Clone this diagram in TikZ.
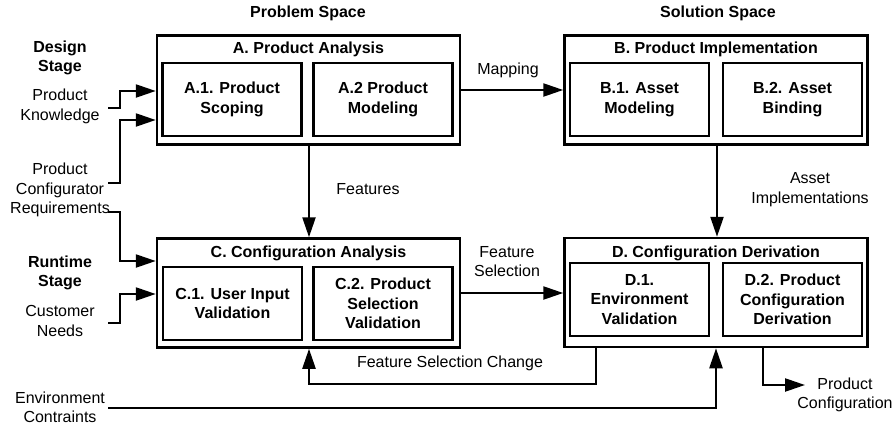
\documentclass[tikz,border=0pt]{standalone}
\usepackage{fontspec}
\setmainfont{Liberation Sans}
\usetikzlibrary{arrows.meta}
\begin{document}
\begin{tikzpicture}[x=1pt,y=-1pt,
  every node/.style={font=\fontsize{16}{19.5}\selectfont},
  outerbox/.style={draw, line width=2.5pt, minimum width=303pt, minimum height=109pt, inner sep=0pt},
  innerbox/.style={draw, line width=2.3pt, minimum width=139pt, minimum height=73pt, align=center, inner sep=0pt, font=\fontsize{16}{19.5}\selectfont\bfseries},
  title/.style={font=\fontsize{16}{19.5}\selectfont\bfseries, align=center},
  lbl/.style={align=center},
  arr/.style={line width=2.3pt, -{Triangle[length=20pt,width=13pt]}},
  ln/.style={line width=2.3pt},
]
\path[use as bounding box] (0,0) rectangle (894,426);

% headers
\node[title] (hp) at (308,13) {Problem Space};
\node[title] (hs) at (718,13) {Solution Space};

% outer boxes
\node[outerbox] (A) at (308.5,90) {};
\node[outerbox] (B) at (716,90) {};
\node[outerbox] (C) at (308.5,293) {};
\node[outerbox] (D) at (716,292.5) {};

\node[title] (At) at (308.5,49) {A. Product Analysis};
\node[title] (Bt) at (716,49) {B. Product Implementation};
\node[title] (Ct) at (308.5,253) {C. Configuration Analysis};
\node[title] (Dt) at (716,253) {D. Configuration Derivation};

% inner boxes
\node[innerbox] (A1) at (232,99.5) {A.1. Product\\Scoping};
\node[innerbox] (A2) at (383,99.5) {A.2 Product\\Modeling};
\node[innerbox] (B1) at (639.5,99.5) {B.1. Asset\\Modeling};
\node[innerbox] (B2) at (792.5,99.5) {B.2. Asset\\Binding};
\node[innerbox] (C1) at (232.5,303.5) {C.1. User Input\\Validation};
\node[innerbox] (C2) at (383,303.5) {C.2. Product\\Selection\\Validation};
\node[innerbox] (D1) at (639.5,299.5) {D.1.\\Environment\\Validation};
\node[innerbox] (D2) at (792.5,299.5) {D.2. Product\\Configuration\\Derivation};

% left labels
\node[title] (ds) at (60,58) {Design\\Stage};
\node[lbl] (pk) at (60,106.5) {Product\\Knowledge};
\node[lbl] (pcr) at (60,190) {Product\\Configurator\\Requirements};
\node[title] (rs) at (60,273) {Runtime\\Stage};
\node[lbl] (cn) at (60,321) {Customer\\Needs};
\node[lbl] (ec) at (60,407.5) {Environment\\Contraints};

% other labels
\node[lbl] (lmap) at (508,70) {Mapping};
\node[lbl] (lfeat) at (368,189) {Features};
\node[lbl] (lai) at (810,189.5) {Asset\\Implementations};
\node[lbl] (lfs) at (507,261.5) {Feature\\Selection};
\node[lbl] (lfsc) at (450,363) {Feature Selection Change};
\node[lbl] (lpc) at (845,395) {Product\\Configuration};

% coordinates
\coordinate (pkS) at (108,108);
\coordinate (pcrS) at (108,183);
\coordinate (reqS) at (108,212);
\coordinate (cnS) at (108,323);
\coordinate (ecS) at (108,408);
\coordinate (pcE) at (805,385);

% left inputs
\draw[arr] (pkS) -- (120,108) -- (120,91) -- (A.west |- 0,91);
\draw[arr] (pcrS) -- (120,183) -- (120,120) -- (A.west |- 0,120);
\draw[arr] (reqS) -- (120,212) -- (120,261) -- (C.west |- 0,261);
\draw[arr] (cnS) -- (120,323) -- (120,294) -- (C.west |- 0,294);
\draw[arr] (ecS) -- (716,408) -- (D.south -| 716,0);

% main flows
\draw[arr] (A.east |- 0,90) -- (B.west |- 0,90);
\draw[arr] (A.south -| 309,0) -- (C.north -| 309,0);
\draw[arr] (B.south -| 717,0) -- (D.north -| 717,0);
\draw[arr] (C.east |- 0,293) -- (D.west |- 0,293);
\draw[arr] (D.south -| 596,0) -- (596,384) -- (309,384) -- (C.south -| 309,0);
\draw[arr] (D.south -| 763,0) -- (763,385) -- (pcE);
\end{tikzpicture}
\end{document}
